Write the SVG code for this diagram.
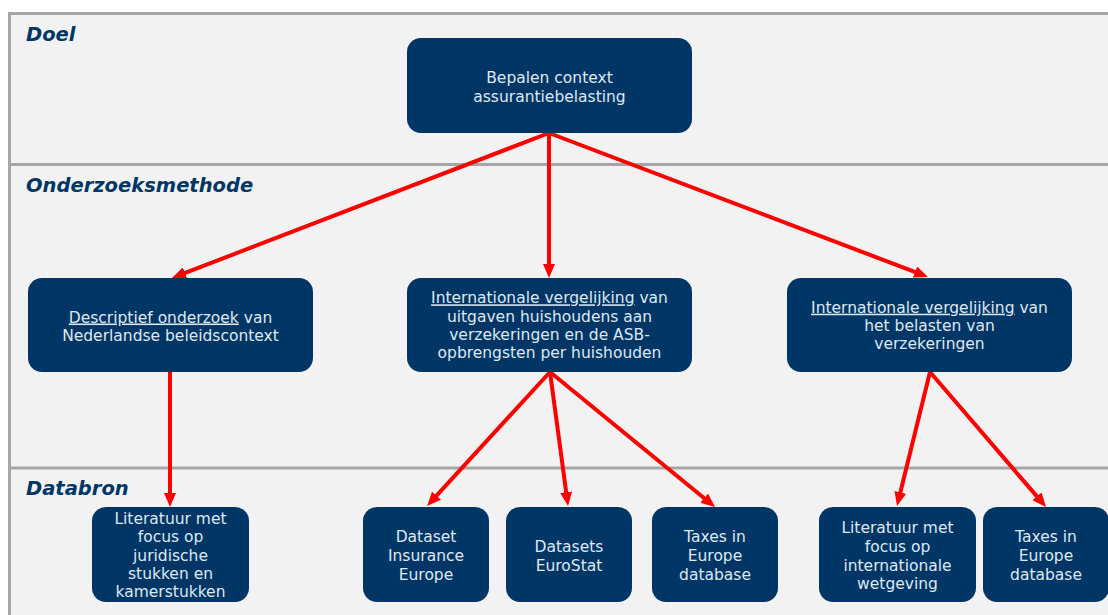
<svg xmlns="http://www.w3.org/2000/svg" width="1108" height="615" viewBox="0 0 1108 615">
<style>
.box{fill:#003665;}
.t{font-family:"DejaVu Sans","Liberation Sans",sans-serif;font-size:15.5px;fill:#dfe8f2;text-anchor:middle;}
.sec{font-family:"DejaVu Sans","Liberation Sans",sans-serif;font-size:19.5px;font-weight:bold;font-style:italic;fill:#003665;}
.u{text-decoration:underline;}
.arr{stroke:#ff0000;stroke-width:4;fill:none;marker-end:url(#ah);}
</style>
<defs>
<marker id="ah" markerUnits="userSpaceOnUse" markerWidth="14" markerHeight="12" refX="4" refY="6" orient="auto">
<path d="M0,0 L14,6 L0,12 z" fill="#ff0000"/>
</marker>
</defs>
<rect width="1108" height="615" fill="#ffffff"/>
<g id="panels">
<rect x="9.5" y="13.5" width="1110" height="610" fill="#f2f2f2" stroke="#a6a6a6" stroke-width="3"/>
<line x1="9" y1="164.5" x2="1108" y2="164.5" stroke="#a6a6a6" stroke-width="3"/>
<line x1="9" y1="468" x2="1108" y2="468" stroke="#a6a6a6" stroke-width="3"/>
<text class="sec" x="26" y="41">Doel</text>
<text class="sec" x="26" y="192">Onderzoeksmethode</text>
<text class="sec" x="26" y="495">Databron</text>
</g>
<g id="connectors">
<line class="arr" x1="549" y1="133" x2="181.3" y2="274.4"/>
<line class="arr" x1="549" y1="133" x2="549" y2="268"/>
<line class="arr" x1="549" y1="133" x2="918.7" y2="273.4"/>
<line class="arr" x1="170" y1="372" x2="170" y2="497"/>
<line class="arr" x1="550" y1="372" x2="433.8" y2="498.6"/>
<line class="arr" x1="550" y1="372" x2="566.7" y2="496.1"/>
<line class="arr" x1="550" y1="372" x2="707.3" y2="500.7"/>
<line class="arr" x1="930" y1="372" x2="899.4" y2="496.3"/>
<line class="arr" x1="930" y1="372" x2="1039.5" y2="499.4"/>
</g>
<g id="doel">
<rect class="box" x="407" y="38" width="285" height="95" rx="14"/>
<text class="t" x="549.5" y="83">Bepalen context</text>
<text class="t" x="549.5" y="101.5">assurantiebelasting</text>
</g>
<g id="descriptief">
<rect class="box" x="28" y="278" width="285" height="94" rx="14"/>
<text class="t" x="170.5" y="322.5"><tspan class="u">Descriptief onderzoek</tspan> van</text>
<text class="t" x="170.5" y="341">Nederlandse beleidscontext</text>
</g>
<g id="intl-uitgaven">
<rect class="box" x="407" y="278" width="285" height="94" rx="14"/>
<text class="t" x="549.5" y="303.3"><tspan class="u">Internationale vergelijking</tspan> van</text>
<text class="t" x="549.5" y="321.7">uitgaven huishoudens aan</text>
<text class="t" x="549.5" y="340">verzekeringen en de ASB-</text>
<text class="t" x="549.5" y="358.3">opbrengsten per huishouden</text>
</g>
<g id="intl-belasten">
<rect class="box" x="787" y="278" width="285" height="94" rx="14"/>
<text class="t" x="929.5" y="312.7"><tspan class="u">Internationale vergelijking</tspan> van</text>
<text class="t" x="929.5" y="331">het belasten van</text>
<text class="t" x="929.5" y="349.3">verzekeringen</text>
</g>
<g id="lit-juridisch">
<rect class="box" x="92" y="507" width="157" height="95" rx="14"/>
<text class="t" x="170.5" y="524">Literatuur met</text>
<text class="t" x="170.5" y="542.3">focus op</text>
<text class="t" x="170.5" y="560.7">juridische</text>
<text class="t" x="170.5" y="579">stukken en</text>
<text class="t" x="170.5" y="597.3">kamerstukken</text>
</g>
<g id="dataset-insurance">
<rect class="box" x="363" y="507" width="126" height="95" rx="14"/>
<text class="t" x="426" y="542.3">Dataset</text>
<text class="t" x="426" y="561.3">Insurance</text>
<text class="t" x="426" y="580">Europe</text>
</g>
<g id="eurostat">
<rect class="box" x="506" y="507" width="126" height="95" rx="14"/>
<text class="t" x="569" y="552.3">Datasets</text>
<text class="t" x="569" y="570.7">EuroStat</text>
</g>
<g id="taxes1">
<rect class="box" x="652" y="507" width="126" height="95" rx="14"/>
<text class="t" x="715" y="542.3">Taxes in</text>
<text class="t" x="715" y="561.3">Europe</text>
<text class="t" x="715" y="580">database</text>
</g>
<g id="lit-internationaal">
<rect class="box" x="819" y="507" width="157" height="95" rx="14"/>
<text class="t" x="897.5" y="533.3">Literatuur met</text>
<text class="t" x="897.5" y="552.3">focus op</text>
<text class="t" x="897.5" y="570.7">internationale</text>
<text class="t" x="897.5" y="589.3">wetgeving</text>
</g>
<g id="taxes2">
<rect class="box" x="983" y="507" width="126" height="95" rx="14"/>
<text class="t" x="1046" y="542.3">Taxes in</text>
<text class="t" x="1046" y="561.3">Europe</text>
<text class="t" x="1046" y="580">database</text>
</g>
</svg>
